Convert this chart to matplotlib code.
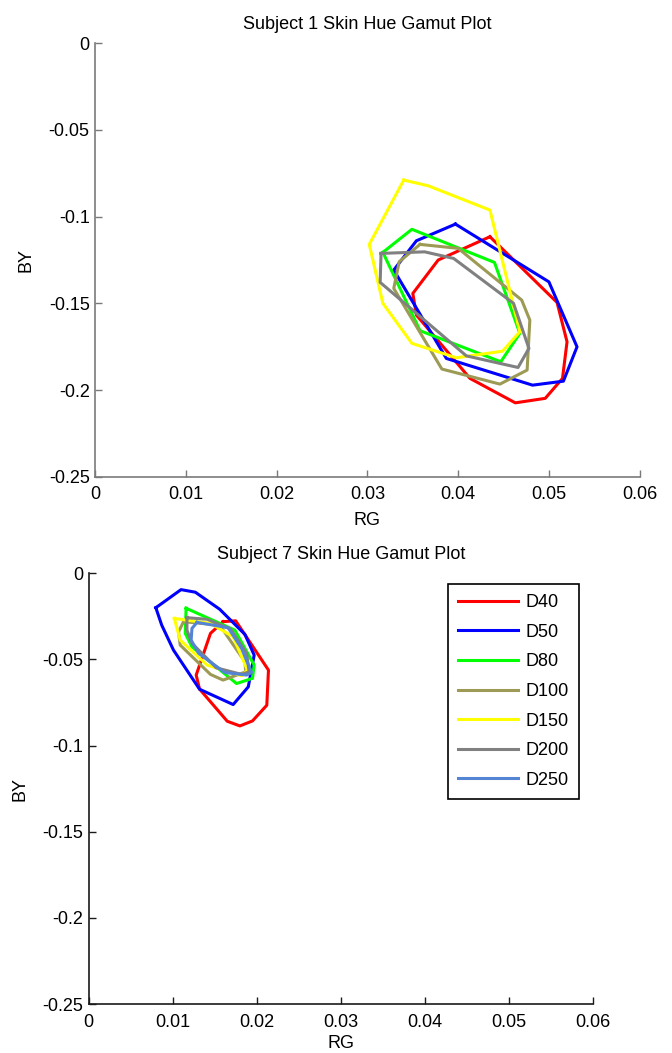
import numpy as np
import matplotlib
matplotlib.use('Agg')
import matplotlib.pyplot as plt

plt.rcParams['font.family'] = ['Liberation Sans', 'DejaVu Sans']
plt.rcParams['axes.unicode_minus'] = False

illuminants = ['D40', 'D50', 'D80', 'D100', 'D150', 'D200', 'D250']
colori = ['#ff0000', '#0000ff', '#00ff00', '#9c9a55', '#ffff00', '#808080', '#5584d4']

# Soggetto 1: vertici dei contorni (RG, BY) per ogni illuminante
s1_d40_rg = [0.0435, 0.0509, 0.0520, 0.0515, 0.0496, 0.0463, 0.0413, 0.0354, 0.0350, 0.0378]
s1_d40_by = [-0.1116, -0.1495, -0.1722, -0.1933, -0.2048, -0.2074, -0.1933, -0.1568, -0.1443, -0.1250]
s1_d50_rg = [0.0397, 0.0500, 0.0531, 0.0516, 0.0482, 0.0387, 0.0329, 0.0354]
s1_d50_by = [-0.1043, -0.1376, -0.1751, -0.1949, -0.1972, -0.1818, -0.1308, -0.1139]
s1_d80_rg = [0.0317, 0.0349, 0.0440, 0.0468, 0.0447, 0.0358]
s1_d80_by = [-0.1206, -0.1073, -0.1264, -0.1673, -0.1837, -0.1658]
s1_d100_rg = [0.0358, 0.0400, 0.0470, 0.0479, 0.0476, 0.0446, 0.0382, 0.0329, 0.0335]
s1_d100_by = [-0.1160, -0.1183, -0.1481, -0.1597, -0.1885, -0.1966, -0.1879, -0.1414, -0.1260]
s1_d150_rg = [0.0340, 0.0367, 0.0435, 0.0468, 0.0449, 0.0398, 0.0349, 0.0317, 0.0302]
s1_d150_by = [-0.0789, -0.0822, -0.0962, -0.1664, -0.1776, -0.1814, -0.1731, -0.1500, -0.1160]
s1_d200_rg = [0.0315, 0.0363, 0.0395, 0.0461, 0.0478, 0.0466, 0.0409, 0.0314]
s1_d200_by = [-0.1212, -0.1203, -0.1241, -0.1500, -0.1760, -0.1870, -0.1803, -0.1379]

# Soggetto 7
s7_d40_rg = [0.0160, 0.0175, 0.0214, 0.0212, 0.0195, 0.0180, 0.0165, 0.0132, 0.0128, 0.0145]
s7_d40_by = [-0.0281, -0.0276, -0.0562, -0.0766, -0.0857, -0.0886, -0.0859, -0.0672, -0.0591, -0.0349]
s7_d50_rg = [0.0080, 0.0110, 0.0127, 0.0156, 0.0186, 0.0197, 0.0190, 0.0172, 0.0132, 0.0101, 0.0087]
s7_d50_by = [-0.0200, -0.0095, -0.0110, -0.0209, -0.0355, -0.0475, -0.0659, -0.0762, -0.0673, -0.0446, -0.0301]
s7_d80_rg = [0.0116, 0.0174, 0.0197, 0.0195, 0.0176, 0.0123, 0.0115]
s7_d80_by = [-0.0203, -0.0330, -0.0533, -0.0610, -0.0640, -0.0427, -0.0349]
s7_d100_rg = [0.0113, 0.0156, 0.0186, 0.0187, 0.0160, 0.0145, 0.0109, 0.0107]
s7_d100_by = [-0.0281, -0.0301, -0.0514, -0.0572, -0.0620, -0.0587, -0.0417, -0.0340]
s7_d150_rg = [0.0102, 0.0145, 0.0172, 0.0189, 0.0182, 0.0141, 0.0109]
s7_d150_by = [-0.0262, -0.0291, -0.0369, -0.0562, -0.0595, -0.0533, -0.0388]
s7_d200_rg = [0.0117, 0.0141, 0.0169, 0.0188, 0.0191, 0.0182, 0.0152, 0.0123, 0.0117]
s7_d200_by = [-0.0258, -0.0267, -0.0324, -0.0465, -0.0572, -0.0587, -0.0549, -0.0407, -0.0330]
s7_d250_rg = [0.0129, 0.0166, 0.0182, 0.0194, 0.0188, 0.0162, 0.0131, 0.0122, 0.0123]
s7_d250_by = [-0.0285, -0.0316, -0.0436, -0.0576, -0.0591, -0.0576, -0.0465, -0.0388, -0.0320]

x_ticks = [0, 0.01, 0.02, 0.03, 0.04, 0.05, 0.06]
x_labels = ['0', '0.01', '0.02', '0.03', '0.04', '0.05', '0.06']
y_ticks = [0, -0.05, -0.1, -0.15, -0.2, -0.25]
y_labels = ['0', '-0.05', '-0.1', '-0.15', '-0.2', '-0.25']

soggetto1 = [(s1_d40_rg, s1_d40_by), (s1_d50_rg, s1_d50_by), (s1_d80_rg, s1_d80_by),
             (s1_d100_rg, s1_d100_by), (s1_d150_rg, s1_d150_by), (s1_d200_rg, s1_d200_by)]
soggetto7 = [(s7_d40_rg, s7_d40_by), (s7_d50_rg, s7_d50_by), (s7_d80_rg, s7_d80_by),
             (s7_d100_rg, s7_d100_by), (s7_d150_rg, s7_d150_by), (s7_d200_rg, s7_d200_by),
             (s7_d250_rg, s7_d250_by)]


def disegna_gamut(ax, contorni, titolo, col_assi, pad_x):
    for (rg, by), col, nome in zip(contorni, colori, illuminants):
        # chiudo il poligono ripetendo il primo vertice
        rg_c = np.append(rg, rg[0])
        by_c = np.append(by, by[0])
        ax.plot(rg_c, by_c, color=col, linewidth=2.2, label=nome)
    ax.set_xlim(0, 0.06)
    ax.set_ylim(-0.25, 0)
    ax.set_xticks(x_ticks)
    ax.set_xticklabels(x_labels)
    ax.set_yticks(y_ticks)
    ax.set_yticklabels(y_labels)
    ax.tick_params(direction='in', length=5, width=1, colors=col_assi,
                   labelcolor='black', labelsize=13)
    ax.tick_params(axis='x', pad=7)
    ax.tick_params(axis='y', pad=4)
    for lato in ['top', 'right']:
        ax.spines[lato].set_visible(False)
    for lato in ['left', 'bottom']:
        ax.spines[lato].set_color(col_assi)
        ax.spines[lato].set_linewidth(1.2)
    ax.set_title(titolo, fontsize=13, pad=10)
    ax.set_xlabel('RG', fontsize=13, labelpad=pad_x)
    ax.set_ylabel('BY', fontsize=13, labelpad=10)


fig = plt.figure(figsize=(6.72, 10.53), dpi=100)
ax1 = fig.add_axes([0.1418, 0.5473, 0.8100, 0.4116])
ax2 = fig.add_axes([0.1318, 0.0465, 0.7506, 0.4091])

disegna_gamut(ax1, soggetto1, 'Subject 1 Skin Hue Gamut Plot', '#7a7a7a', 6)
disegna_gamut(ax2, soggetto7, 'Subject 7 Skin Hue Gamut Plot', '#1a1a1a', 3)

leg = ax2.legend(loc='upper right', bbox_to_anchor=(0.972, 0.975), borderaxespad=0,
                 fontsize=13, fancybox=False, edgecolor='black', framealpha=1,
                 handlelength=3.3, handletextpad=0.45, labelspacing=0.7, borderpad=0.55)
leg.get_frame().set_linewidth(1.2)

plt.savefig('out.png', dpi=100)
